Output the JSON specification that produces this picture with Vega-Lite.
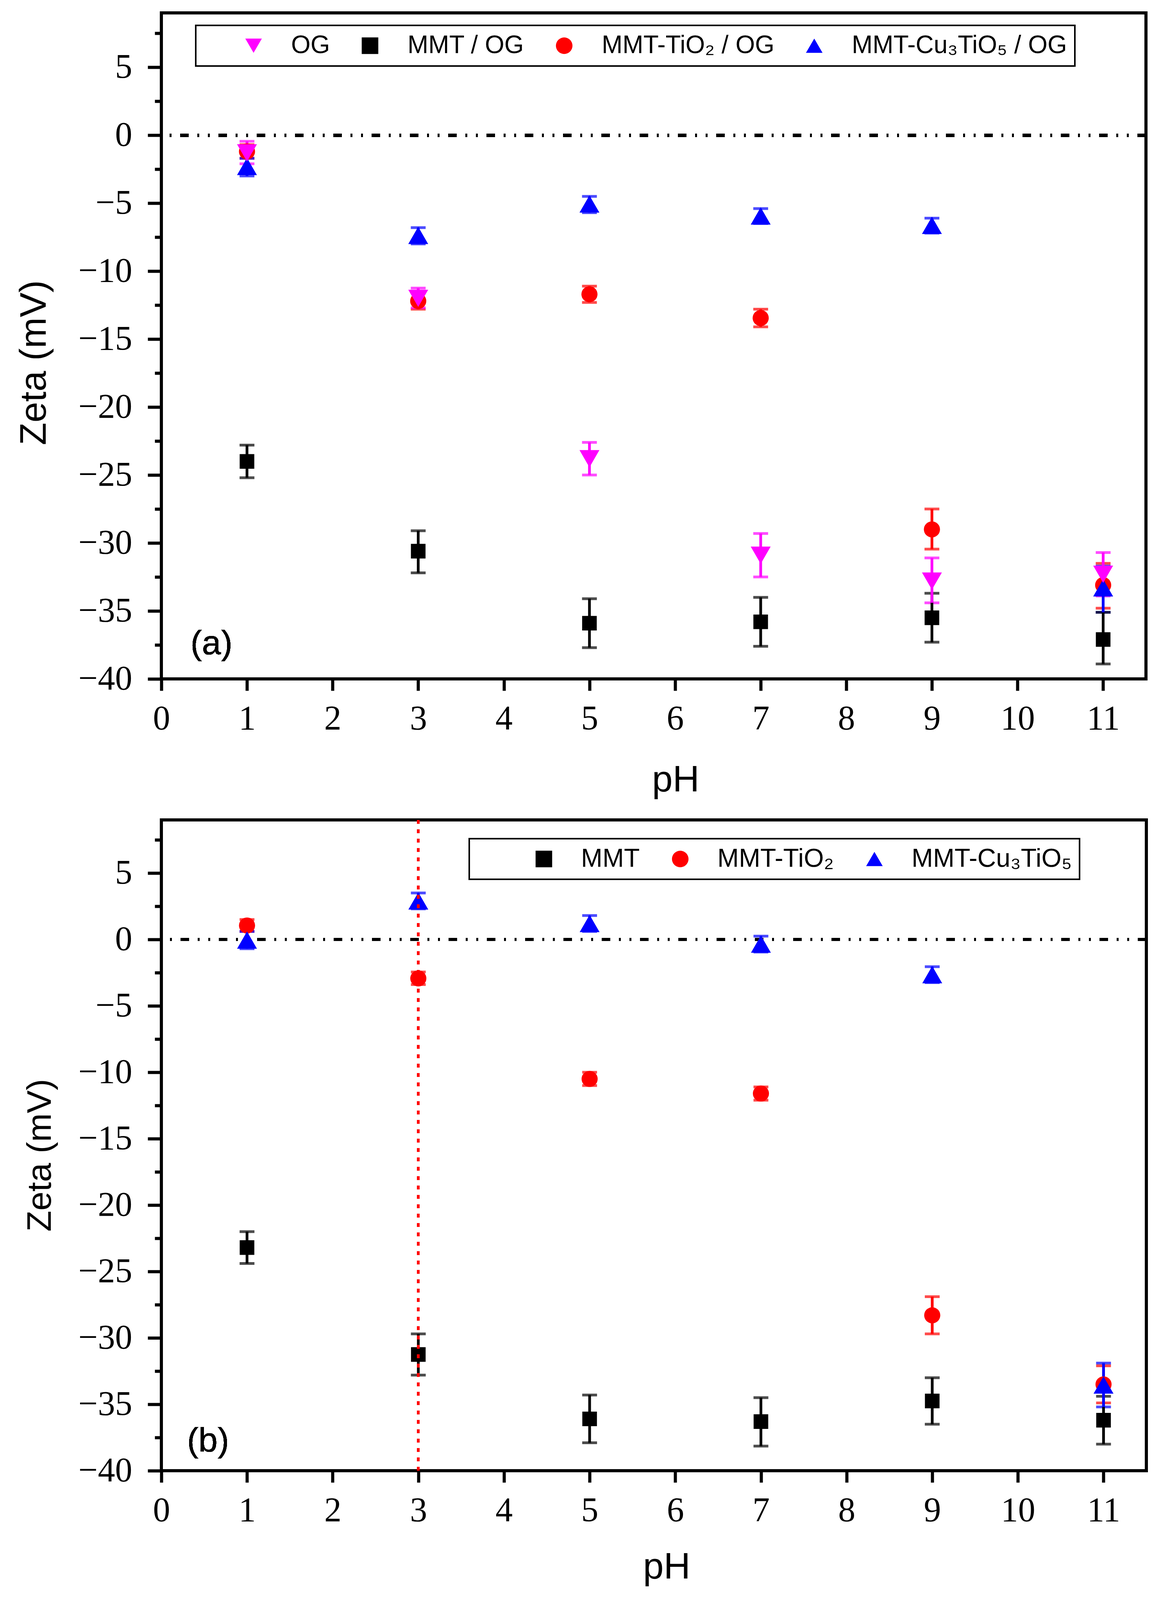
{
  "$schema": "https://vega.github.io/schema/vega-lite/v6.json",
  "background": "white",
  "padding": {"left": 36, "top": 29, "right": 5, "bottom": 5},
  "spacing": 44,
  "config": {
    "view": {"stroke": "black", "strokeWidth": 8},
    "axis": {
      "domain": false,
      "grid": false,
      "tickColor": "black",
      "tickWidth": 8,
      "labelFont": "Liberation Serif",
      "labelFontSize": 88,
      "labelColor": "black",
      "labelFlush": false,
      "labelOverlap": false,
      "titleFont": "Liberation Sans",
      "titleFontSize": 95,
      "titleFontWeight": "normal",
      "titleColor": "black"
    },
    "legend": {
      "labelFont": "Liberation Sans",
      "labelFontSize": 65,
      "labelColor": "black",
      "labelLimit": 3000,
      "symbolSize": 1800,
      "symbolStrokeWidth": 0,
      "strokeColor": "black",
      "strokeWidth": 4,
      "orient": "none",
      "direction": "horizontal",
      "titleOrient": "left",
      "titleFontSize": 10,
      "titleColor": "white"
    }
  },
  "resolve": {"scale": {"color": "independent", "shape": "independent"}},
  "vconcat": [
    {
      "width": 2520,
      "height": 1705,
      "data": {"values": [
        {"series": "MMT / OG", "pH": 1, "zeta": -24.0, "lo": -25.2, "hi": -22.8},
        {"series": "MMT / OG", "pH": 3, "zeta": -30.6, "lo": -32.2, "hi": -29.1},
        {"series": "MMT / OG", "pH": 5, "zeta": -35.9, "lo": -37.7, "hi": -34.1},
        {"series": "MMT / OG", "pH": 7, "zeta": -35.8, "lo": -37.6, "hi": -34.0},
        {"series": "MMT / OG", "pH": 9, "zeta": -35.5, "lo": -37.3, "hi": -33.7},
        {"series": "MMT / OG", "pH": 11, "zeta": -37.1, "lo": -38.9, "hi": -35.1},
        {"series": "MMT-TiO₂ / OG", "pH": 1, "zeta": -1.2, "lo": -1.7, "hi": -0.7},
        {"series": "MMT-TiO₂ / OG", "pH": 3, "zeta": -12.2, "lo": -12.8, "hi": -11.6},
        {"series": "MMT-TiO₂ / OG", "pH": 5, "zeta": -11.7, "lo": -12.3, "hi": -11.1},
        {"series": "MMT-TiO₂ / OG", "pH": 7, "zeta": -13.45, "lo": -14.1, "hi": -12.8},
        {"series": "MMT-TiO₂ / OG", "pH": 9, "zeta": -29.0, "lo": -30.45, "hi": -27.5},
        {"series": "MMT-TiO₂ / OG", "pH": 11, "zeta": -33.1, "lo": -34.8, "hi": -31.5},
        {"series": "MMT-Cu₃TiO₅ / OG", "pH": 1, "zeta": -2.3, "lo": -3.0, "hi": -1.7},
        {"series": "MMT-Cu₃TiO₅ / OG", "pH": 3, "zeta": -7.37, "lo": -8.0, "hi": -6.8},
        {"series": "MMT-Cu₃TiO₅ / OG", "pH": 5, "zeta": -5.06, "lo": -5.7, "hi": -4.5},
        {"series": "MMT-Cu₃TiO₅ / OG", "pH": 7, "zeta": -5.94, "lo": -6.5, "hi": -5.4},
        {"series": "MMT-Cu₃TiO₅ / OG", "pH": 9, "zeta": -6.63, "lo": -7.2, "hi": -6.1},
        {"series": "MMT-Cu₃TiO₅ / OG", "pH": 11, "zeta": -33.3, "lo": -35.1, "hi": -31.7},
        {"series": "OG", "pH": 1, "zeta": -1.3, "lo": -2.1, "hi": -0.45},
        {"series": "OG", "pH": 3, "zeta": -12.0, "lo": -12.7, "hi": -11.25},
        {"series": "OG", "pH": 5, "zeta": -23.8, "lo": -25.0, "hi": -22.6},
        {"series": "OG", "pH": 7, "zeta": -30.9, "lo": -32.5, "hi": -29.3},
        {"series": "OG", "pH": 9, "zeta": -32.8, "lo": -34.4, "hi": -31.1},
        {"series": "OG", "pH": 11, "zeta": -32.3, "lo": -33.9, "hi": -30.7}
      ]},
      "resolve": {"axis": {"x": "independent", "y": "independent"}, "legend": {"color": "independent", "shape": "independent"}},
      "layer": [
        {
          "mark": {"type": "rule", "stroke": "black", "strokeWidth": 8, "strokeDash": [22, 22, 5, 22, 5, 22]},
          "encoding": {
            "y": {"datum": 0, "type": "quantitative", "scale": {"domain": [-40, 9], "nice": false, "zero": false},
              "axis": {"orient": "left", "values": [-37.5, -32.5, -27.5, -22.5, -17.5, -12.5, -7.5, -2.5, 2.5, 7.5], "labels": false, "tickSize": 17, "title": null}}
          }
        },
        {
          "mark": {"type": "errorbar", "ticks": true, "size": 38, "thickness": 7},
          "encoding": {
            "x": {"field": "pH", "type": "quantitative", "axis": null, "scale": {"domain": [0, 11.5], "nice": false, "zero": false}},
            "y": {"field": "lo", "type": "quantitative", "axis": null, "scale": {"domain": [-40, 9], "nice": false, "zero": false}},
            "y2": {"field": "hi"},
            "color": {"field": "series", "type": "nominal", "legend": null,
              "scale": {"domain": ["OG", "MMT / OG", "MMT-TiO₂ / OG", "MMT-Cu₃TiO₅ / OG"], "range": ["#ff00ff", "#000000", "#ff0000", "#0000ff"]}}
          }
        },
        {
          "mark": {"type": "point", "filled": true, "opacity": 1, "strokeWidth": 0},
          "encoding": {
            "x": {"field": "pH", "type": "quantitative", "title": "pH",
              "scale": {"domain": [0, 11.5], "nice": false, "zero": false},
              "axis": {"orient": "bottom", "values": [0, 1, 2, 3, 4, 5, 6, 7, 8, 9, 10, 11], "tickSize": 30, "labelPadding": 28,
                "labelFont": "Liberation Serif",
                "titleX": 1316, "titleY": 287, "titleBaseline": "alphabetic", "titleAlign": "center"}},
            "y": {"field": "zeta", "type": "quantitative", "title": "Zeta (mV)",
              "scale": {"domain": [-40, 9], "nice": false, "zero": false},
              "axis": {"orient": "left", "values": [-40, -35, -30, -25, -20, -15, -10, -5, 0, 5],
                "tickSize": 35, "labelPadding": 40, "labelFont": "Liberation Serif",
                "titleX": -297, "titleY": 895, "titleAngle": 270, "titleBaseline": "alphabetic", "titleAlign": "center"}},
            "color": {"field": "series", "type": "nominal",
              "scale": {"domain": ["OG", "MMT / OG", "MMT-TiO₂ / OG", "MMT-Cu₃TiO₅ / OG"], "range": ["#ff00ff", "#000000", "#ff0000", "#0000ff"]},
              "legend": {"title": " ", "titlePadding": 26, "orient": "none", "legendX": 88, "legendY": 32, "direction": "horizontal", "padding": 20,
                "symbolSize": 1800, "symbolOffset": 70, "labelOffset": 64, "columnPadding": 0, "labelLimit": 3000,
                "labelFontSize": 64, "strokeColor": "black",
                "encode": {"legend": {"update": {"strokeWidth": {"value": 4}, "stroke": {"value": "black"}}}}}},
            "shape": {"field": "series", "type": "nominal",
              "scale": {"domain": ["OG", "MMT / OG", "MMT-TiO₂ / OG", "MMT-Cu₃TiO₅ / OG"], "range": ["triangle-down", "square", "circle", "triangle-up"]}},
            "size": {"condition": [
              {"test": "datum.series === 'MMT / OG'", "value": 1400},
              {"test": "datum.series === 'MMT-TiO₂ / OG'", "value": 1700}], "value": 2600}
          }
        },
        {
          "mark": {"type": "text", "text": "(a)", "font": "Liberation Sans", "fontSize": 88, "align": "left", "baseline": "middle", "color": "black"},
          "encoding": {
            "x": {"datum": 0.34, "type": "quantitative", "axis": null},
            "y": {"datum": -37.45, "type": "quantitative", "axis": null}
          }
        }
      ]
    },
    {
      "width": 2521,
      "height": 1666,
      "data": {"values": [
        {"series": "MMT", "pH": 1, "zeta": -23.2, "lo": -24.4, "hi": -22.0},
        {"series": "MMT", "pH": 3, "zeta": -31.25, "lo": -32.8, "hi": -29.7},
        {"series": "MMT", "pH": 5, "zeta": -36.1, "lo": -37.9, "hi": -34.3},
        {"series": "MMT", "pH": 7, "zeta": -36.3, "lo": -38.15, "hi": -34.5},
        {"series": "MMT", "pH": 9, "zeta": -34.75, "lo": -36.5, "hi": -33.0},
        {"series": "MMT", "pH": 11, "zeta": -36.2, "lo": -38.0, "hi": -34.4},
        {"series": "MMT-TiO₂", "pH": 1, "zeta": 1.05, "lo": 0.6, "hi": 1.5},
        {"series": "MMT-TiO₂", "pH": 3, "zeta": -2.93, "lo": -3.4, "hi": -2.45},
        {"series": "MMT-TiO₂", "pH": 5, "zeta": -10.5, "lo": -11.0, "hi": -10.0},
        {"series": "MMT-TiO₂", "pH": 7, "zeta": -11.6, "lo": -12.1, "hi": -11.1},
        {"series": "MMT-TiO₂", "pH": 9, "zeta": -28.3, "lo": -29.7, "hi": -26.9},
        {"series": "MMT-TiO₂", "pH": 11, "zeta": -33.5, "lo": -34.9, "hi": -32.1},
        {"series": "MMT-Cu₃TiO₅", "pH": 1, "zeta": -0.05, "lo": -0.7, "hi": 0.6},
        {"series": "MMT-Cu₃TiO₅", "pH": 3, "zeta": 2.9, "lo": 2.3, "hi": 3.5},
        {"series": "MMT-Cu₃TiO₅", "pH": 5, "zeta": 1.2, "lo": 0.6, "hi": 1.8},
        {"series": "MMT-Cu₃TiO₅", "pH": 7, "zeta": -0.35, "lo": -0.95, "hi": 0.25},
        {"series": "MMT-Cu₃TiO₅", "pH": 9, "zeta": -2.65, "lo": -3.25, "hi": -2.05},
        {"series": "MMT-Cu₃TiO₅", "pH": 11, "zeta": -33.55, "lo": -35.2, "hi": -31.9}
      ]},
      "resolve": {"axis": {"x": "independent", "y": "independent"}, "legend": {"color": "independent", "shape": "independent"}},
      "layer": [
        {
          "mark": {"type": "rule", "stroke": "black", "strokeWidth": 8, "strokeDash": [22, 22, 5, 22, 5, 22]},
          "encoding": {
            "y": {"datum": 0, "type": "quantitative", "scale": {"domain": [-40, 9], "nice": false, "zero": false},
              "axis": {"orient": "left", "values": [-37.5, -32.5, -27.5, -22.5, -17.5, -12.5, -7.5, -2.5, 2.5, 7.5], "labels": false, "tickSize": 17, "title": null}}
          }
        },
        {
          "mark": {"type": "errorbar", "ticks": true, "size": 38, "thickness": 7},
          "encoding": {
            "x": {"field": "pH", "type": "quantitative", "axis": null, "scale": {"domain": [0, 11.5], "nice": false, "zero": false}},
            "y": {"field": "lo", "type": "quantitative", "axis": null, "scale": {"domain": [-40, 9], "nice": false, "zero": false}},
            "y2": {"field": "hi"},
            "color": {"field": "series", "type": "nominal", "legend": null,
              "scale": {"domain": ["MMT", "MMT-TiO₂", "MMT-Cu₃TiO₅"], "range": ["#000000", "#ff0000", "#0000ff"]}}
          }
        },
        {
          "mark": {"type": "point", "filled": true, "opacity": 1, "strokeWidth": 0},
          "encoding": {
            "x": {"field": "pH", "type": "quantitative", "title": "pH",
              "scale": {"domain": [0, 11.5], "nice": false, "zero": false},
              "axis": {"orient": "bottom", "values": [0, 1, 2, 3, 4, 5, 6, 7, 8, 9, 10, 11], "tickSize": 30, "labelPadding": 28,
                "labelFont": "Liberation Serif",
                "titleX": 1293, "titleY": 275, "titleBaseline": "alphabetic", "titleAlign": "center"}},
            "y": {"field": "zeta", "type": "quantitative", "title": "Zeta (mV)",
              "scale": {"domain": [-40, 9], "nice": false, "zero": false},
              "axis": {"orient": "left", "values": [-40, -35, -30, -25, -20, -15, -10, -5, 0, 5],
                "tickSize": 35, "labelPadding": 40, "titleFontSize": 88, "labelFont": "Liberation Serif",
                "titleX": -284, "titleY": 858, "titleAngle": 270, "titleBaseline": "alphabetic", "titleAlign": "center"}},
            "color": {"field": "series", "type": "nominal",
              "scale": {"domain": ["MMT", "MMT-TiO₂", "MMT-Cu₃TiO₅"], "range": ["#000000", "#ff0000", "#0000ff"]},
              "legend": {"title": " ", "titlePadding": 69, "orient": "none", "legendX": 788, "legendY": 48, "direction": "horizontal", "padding": 19,
                "symbolSize": 1800, "symbolOffset": 70, "labelOffset": 62, "columnPadding": 0, "labelLimit": 3000,
                "labelFontSize": 66, "strokeColor": "black",
                "encode": {"legend": {"update": {"strokeWidth": {"value": 4}, "stroke": {"value": "black"}}}}}},
            "shape": {"field": "series", "type": "nominal",
              "scale": {"domain": ["MMT", "MMT-TiO₂", "MMT-Cu₃TiO₅"], "range": ["square", "circle", "triangle-up"]}},
            "size": {"condition": [
              {"test": "datum.series === 'MMT'", "value": 1400},
              {"test": "datum.series === 'MMT-TiO₂'", "value": 1700}], "value": 2600}
          }
        },
        {
          "mark": {"type": "text", "text": "(b)", "font": "Liberation Sans", "fontSize": 88, "align": "left", "baseline": "middle", "color": "black"},
          "encoding": {
            "x": {"datum": 0.3, "type": "quantitative", "axis": null},
            "y": {"datum": -37.8, "type": "quantitative", "axis": null}
          }
        },
        {
          "mark": {"type": "rule", "stroke": "#ff0000", "strokeWidth": 6, "strokeDash": [10, 14]},
          "encoding": {
            "x": {"datum": 3, "type": "quantitative", "axis": null}
          }
        }
      ]
    }
  ]
}
